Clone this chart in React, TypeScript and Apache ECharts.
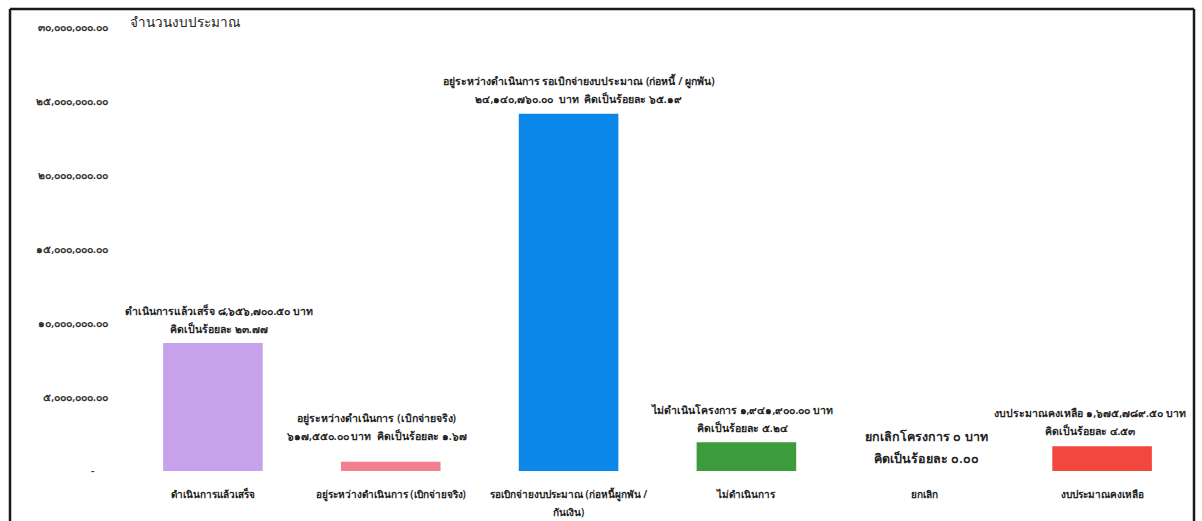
import React, { useEffect, useRef } from "react";
import * as echarts from "echarts";

const categories = [
  "ดำเนินการแล้วเสร็จ",
  "อยู่ระหว่างดำเนินการ (เบิกจ่ายจริง)",
  "รอเบิกจ่ายงบประมาณ (ก่อหนี้ผูกพัน /\nกันเงิน)",
  "ไม่ดำเนินการ",
  "ยกเลิก",
  "งบประมาณคงเหลือ",
];
const amounts = [8656700.5, 617550, 24140760, 1941900, 0, 1675789.5];
const percents = [23.77, 1.67, 65.19, 5.24, 0.0, 4.53];
const labelTemplates = [
  "ดำเนินการแล้วเสร็จ {amt} บาท\nคิดเป็นร้อยละ {pct}",
  "อยู่ระหว่างดำเนินการ (เบิกจ่ายจริง)\n{amt} บาท  คิดเป็นร้อยละ {pct}",
  "อยู่ระหว่างดำเนินการ รอเบิกจ่ายงบประมาณ (ก่อหนี้ / ผูกพัน)\n{amt}  บาท  คิดเป็นร้อยละ {pct}",
  "ไม่ดำเนินโครงการ {amt} บาท\nคิดเป็นร้อยละ {pct}",
  "ยกเลิกโครงการ {amt} บาท\nคิดเป็นร้อยละ {pct}",
  "งบประมาณคงเหลือ {amt} บาท\nคิดเป็นร้อยละ {pct}",
];
const yTicks = { min: 0, max: 30000000, interval: 5000000 };
const axisTitle = "จำนวนงบประมาณ";

const barColors = ["#C7A2EA", "#F2808F", "#0B86E9", "#3C9C3C", "#999999", "#F2473D"];
const labelDistances = [5, 17, 6, 5, 2, 6];
const labelOffsets = [[6, 0], [-14, 0], [10, 0], [-4, 0], [2, 0], [-12, 0]];

const THAI = "๐๑๒๓๔๕๖๗๘๙";
const toThai = (s: string) => s.replace(/[0-9]/g, (d) => THAI[+d]);
const fmt2 = (v: number) =>
  v.toLocaleString("en-US", { minimumFractionDigits: 2, maximumFractionDigits: 2 });

const FONT = "'Noto Sans', 'DejaVu Sans', sans-serif";

export default function App() {
  const ref = useRef<HTMLDivElement>(null);
  useEffect(() => {
    document.body.style.margin = "0";
    const chart = echarts.init(ref.current!, null, { renderer: "svg" });
    const data = amounts.map((v, i) => {
      const amtStr = v === 0 ? "๐" : toThai(fmt2(v));
      const text = labelTemplates[i]
        .replace("{amt}", amtStr)
        .replace("{pct}", toThai(percents[i].toFixed(2)));
      const isZero = v === 0;
      return {
        value: v,
        itemStyle: { color: barColors[i] },
        label: {
          show: true,
          position: "top",
          distance: labelDistances[i],
          offset: labelOffsets[i],
          formatter: text,
          fontSize: isZero ? 12.5 : 10.5,
          lineHeight: isZero ? 22 : 18,
          color: "#222",
          fontWeight: 600,
          fontFamily: FONT,
        },
      };
    });
    chart.setOption({
      animation: false,
      backgroundColor: "#fff",
      grid: { left: 124, right: 11, top: 27, bottom: 48 },
      xAxis: {
        type: "category",
        data: categories,
        axisLine: { show: false },
        axisTick: { show: false },
        axisLabel: {
          interval: 0,
          margin: 14,
          fontSize: 10,
          lineHeight: 18,
          color: "#222",
          fontWeight: 600,
          fontFamily: FONT,
        },
      },
      yAxis: {
        type: "value",
        min: yTicks.min,
        max: yTicks.max,
        interval: yTicks.interval,
        splitLine: { show: false },
        axisLine: { show: false },
        axisTick: { show: false },
        axisLabel: {
          margin: 16,
          fontSize: 10.5,
          color: "#333",
          fontWeight: 600,
          fontFamily: FONT,
          formatter: (v: number) => (v === 0 ? "-     " : toThai(fmt2(v))),
        },
      },
      graphic: [
        {
          type: "line",
          shape: { x1: 10, y1: 9, x2: 1194, y2: 9 },
          style: { stroke: "#1a1a1a", lineWidth: 2.5 },
          silent: true,
          z: 100,
        },
        {
          type: "line",
          shape: { x1: 10, y1: 9, x2: 10, y2: 521 },
          style: { stroke: "#1a1a1a", lineWidth: 2.5 },
          silent: true,
          z: 100,
        },
        {
          type: "line",
          shape: { x1: 1194, y1: 9, x2: 1194, y2: 521 },
          style: { stroke: "#1a1a1a", lineWidth: 2.5 },
          silent: true,
          z: 100,
        },
        {
          type: "text",
          left: 130,
          top: 15,
          style: {
            text: axisTitle,
            fontSize: 13.5,
            fill: "#222",
            fontFamily: FONT,
            fontWeight: 500,
          },
        },
      ],
      series: [
        {
          type: "bar",
          data,
          barWidth: "56%",
        },
      ],
    });
    return () => chart.dispose();
  }, []);
  return <div ref={ref} style={{ width: 1202, height: 521 }} />;
}
